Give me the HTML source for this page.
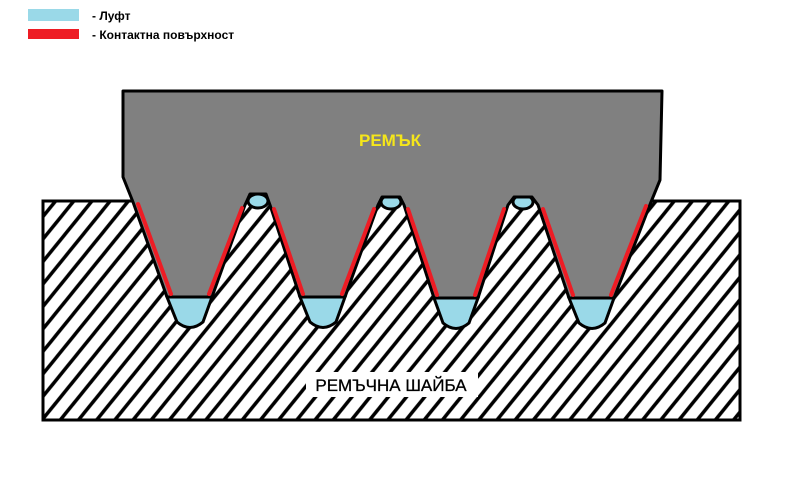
<!DOCTYPE html>
<html><head><meta charset="utf-8"><style>
html,body{margin:0;padding:0;background:#fff;width:800px;height:478px;overflow:hidden}
</style></head><body>
<svg width="800" height="478" viewBox="0 0 800 478" xmlns="http://www.w3.org/2000/svg">
<defs>
<pattern id="h" patternUnits="userSpaceOnUse" width="20" height="20" patternTransform="rotate(-6)">
<line x1="-2" y1="22" x2="22" y2="-2" stroke="#000" stroke-width="3.5"/>
<line x1="-22" y1="22" x2="2" y2="-2" stroke="#000" stroke-width="3.5"/>
<line x1="18" y1="22" x2="42" y2="-2" stroke="#000" stroke-width="3.5"/>
</pattern>
</defs>
<rect x="28" y="9" width="51" height="12" fill="#9ad9e8"/>
<rect x="28" y="29" width="51" height="10" fill="#ee1c24"/>
<g font-family="Liberation Sans, sans-serif" font-weight="bold" font-size="12" fill="#000">
<text x="92" y="20">- Луфт</text>
<text x="92" y="39">- Контактна повърхност</text>
</g>
<rect x="43" y="201" width="697" height="219" fill="url(#h)"/>
<rect x="43" y="201" width="697" height="219" fill="none" stroke="#000" stroke-width="3"/>
<g fill="#9ad9e8" stroke="#000" stroke-width="3">
<path d="M167,297 L212,297 L203,322 Q190,333 177,322 Z"/>
<path d="M300,297 L345,297 L336,322 Q323,333 310,322 Z"/>
<path d="M434,298 L478,298 L469,323 Q456,334 443,323 Z"/>
<path d="M569,298 L614,298 L605,323 Q592,334 579,323 Z"/>
<ellipse cx="258" cy="201" rx="10" ry="7"/>
<ellipse cx="391" cy="202" rx="10" ry="7"/>
<ellipse cx="523" cy="202" rx="10" ry="7"/>
</g>
<path d="M123,91 L662,91 L660,180 L651,202 L614,298 L569,298 L538,205 L532,197 L514,197 L508,205 L478,298 L434,298 L404,205 L400,197 L382,197 L378,205 L345,297 L300,297 L270,205 L266,194 L250,194 L245,205 L212,297 L167,297 L133,202 L123,177 Z" fill="#808080" stroke="#000" stroke-width="3" stroke-linejoin="round"/>
<g stroke="#ee1c24" stroke-width="4" stroke-linecap="round">
<line x1="138" y1="204" x2="171" y2="294"/>
<line x1="209" y1="294" x2="242" y2="208"/>
<line x1="274" y1="209" x2="303" y2="294"/>
<line x1="342" y1="294" x2="374" y2="209"/>
<line x1="408" y1="209" x2="437" y2="295"/>
<line x1="475" y1="295" x2="504" y2="209"/>
<line x1="543" y1="209" x2="573" y2="295"/>
<line x1="611" y1="295" x2="646" y2="206"/>
</g>
<text x="390" y="146" text-anchor="middle" font-family="Liberation Sans, sans-serif" font-weight="bold" font-size="17" fill="#f5e61a">РЕМЪК</text>
<rect x="306" y="372" width="172" height="25" fill="#fff"/>
<text x="391" y="391" text-anchor="middle" font-family="Liberation Sans, sans-serif" font-size="17" fill="#000" stroke="#000" stroke-width="0.3">РЕМЪЧНА ШАЙБА</text>
</svg>
</body></html>
